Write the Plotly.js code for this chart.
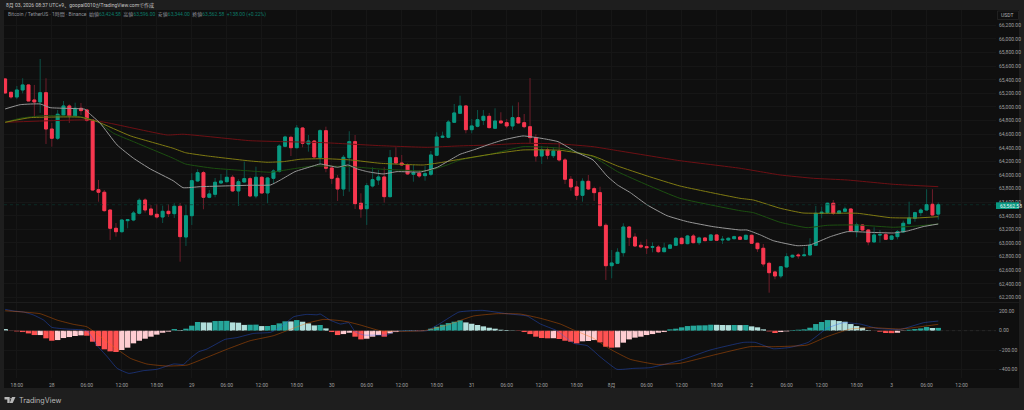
<!DOCTYPE html>
<html><head><meta charset="utf-8">
<script src="https://cdn.plot.ly/plotly-3.0.1.min.js"></script>
<style>html,body{margin:0;padding:0;background:#1e1e1e;overflow:hidden}#c{width:1024px;height:410px}</style>
</head><body><div id="c"></div>
<script>
// Hourly candles, Jul 27 16:00 to Aug 3 08:00 (hour index = array index)
const open_ = [65412,65216,65147,65250,65324,65103,65074,65210,64676,64540,64882,65015,64868,64981,64956,64809,63784,63746,63485,63216,63166,63328,63338,63437,63632,63500,63422,63382,63466,63431,63540,63088,63401,63912,64034,63672,63716,63882,63901,63966,63765,63897,63946,63691,63966,63735,63951,64054,64422,64554,64401,64691,64456,64500,64260,64651,64103,63951,63794,64254,64490,63584,63504,63838,63926,63971,63681,64254,64176,64147,64010,64025,63990,64010,64290,64554,64554,64775,64907,65015,64666,64716,64804,64863,64687,64794,64769,64721,64843,64769,64710,64549,64279,64368,64284,64353,64221,63937,63824,63701,63907,63799,63740,63260,62666,62701,62857,63235,63088,62966,62946,62937,62941,62872,62922,62966,63069,62990,63103,63004,63074,63040,63118,63044,63044,63063,63088,63054,63113,62996,62922,62701,62574,62515,62647,62794,62824,62813,62824,62966,63437,63446,63584,63437,63466,63500,63172,63265,63191,63015,63118,63122,63054,63093,63162,63284,63363,63446,63485,63569,63424.58];
const high_ = [65425,65216,65309,65422,65330,65324,65706,65422,64765,64956,65088,65040,65063,65059,64971,64809,63926,63779,63485,63294,63349,63349,63470,63657,63657,63559,63569,63549,63569,63584,63588,63559,64025,64084,64060,63779,63956,64015,64074,64000,63937,64196,63975,64122,63985,63971,64084,64451,64578,64578,64735,64706,64588,64515,64672,64710,64147,64000,64294,64643,64588,63731,63882,64113,64074,64113,64368,64407,64294,64169,64147,64074,64132,64353,64628,64637,64809,65044,65166,65029,64824,64956,64956,64912,64981,64922,64824,65019,65069,64897,65426,64599,64426,64416,64407,64481,64250,63985,63912,63951,64000,63828,63828,63290,62897,62922,63290,63250,63143,63019,63054,63010,62971,63004,62978,63088,63084,63118,63132,63093,63084,63132,63128,63103,63084,63107,63103,63122,63122,63004,62985,62725,62593,62662,62849,62828,62849,62937,63069,63544,63534,63593,63632,63481,63534,63510,63299,63279,63201,63231,63191,63166,63118,63191,63328,63607,63460,63510,63790,63790,63596];
const low_ = [65195,65122,65118,65200,65088,64857,64912,64456,64416,64515,64868,64765,64853,64882,64784,63770,63607,63460,63044,63093,63150,63216,63320,63420,63446,63397,63360,63294,63382,63368,62725,62956,63265,63900,63496,63657,63672,63872,63887,63750,63544,63887,63672,63657,63721,63584,63878,64034,64407,64279,64390,64407,64343,64250,64162,64040,63868,63618,63691,63754,63500,63372,63265,63816,63853,63593,63669,64162,64132,64000,63901,63956,63916,63985,64279,64544,64540,64765,64897,64613,64613,64701,64735,64684,64676,64757,64687,64662,64757,64687,64466,64196,64162,64231,64250,64196,63868,63769,63632,63607,63779,63618,63240,62456,62481,62691,62799,62956,62946,62922,62838,62863,62853,62863,62912,62956,62981,62981,62996,62971,63025,63029,63029,62985,63029,63054,63044,63044,62985,62868,62651,62269,62466,62481,62637,62784,62769,62799,62813,62956,63363,63437,63412,63426,63456,63166,63084,63176,62966,63004,63004,63044,63044,63054,63151,63275,63313,63397,63475,63401,63344];
const close_ = [65206,65147,65250,65324,65088,65074,65210,64676,64540,64893,65015,64868,64981,64946,64804,63779,63746,63475,63216,63166,63338,63343,63441,63628,63485,63416,63382,63466,63431,63540,63093,63401,63916,64034,63672,63721,63893,63912,63966,63765,63901,63946,63691,63966,63735,63956,64059,64426,64559,64401,64691,64466,64500,64265,64651,64099,63951,63794,64260,64490,63578,63500,63843,63931,63971,63681,64254,64176,64147,64015,64034,63985,64019,64294,64559,64569,64779,64912,65015,64666,64721,64813,64863,64696,64794,64765,64721,64843,64765,64710,64549,64279,64368,64290,64353,64221,63937,63824,63701,63907,63794,63740,63254,62666,62706,62863,63235,63084,62956,62941,62931,62946,62872,62926,62971,63069,62990,63103,63004,63074,63034,63118,63040,63054,63069,63093,63054,63113,62996,62916,62691,62563,62515,62651,62799,62819,62813,62824,62966,63437,63451,63584,63437,63471,63500,63176,63269,63191,63015,63118,63122,63054,63103,63166,63290,63368,63446,63485,63563,63412,63562.58];

// Moving averages, read at turning points
const whiteH = [0,2.6,6,7.7,13.7,14.3,16.3,19.2,22,24.9,28.8,30.5,33.5,42,45.5,47.2,49.7,52.8,54,57,58.8,60.4,62.1,64.8,67.2,71.2,74.1,75.8,78,80.3,83.2,85.4,88.8,92.3,94.8,98.1,100.8,103.2,105,107.2,110.1,113.5,117,121.4,126,127.2,129.5,131.7,135.8,138,141.5,144.4,148.3,152.3,154.7,157.4,160];
const whiteV = [64971,65034,65044,64990,64966,64916,64760,64441,64246,64088,63916,63813,63828,63849,63853,63926,64049,64132,64162,64113,64147,64088,64049,64015,64049,64044,64113,64196,64304,64368,64456,64515,64574,64534,64490,64328,64221,63985,63853,63740,63559,63401,63313,63240,63191,63191,63118,63034,62960,62971,63093,63166,63157,63147,63176,63240,63279];
const yellowH = [0,4.3,12.9,15.8,21.5,28.8,30.9,34.7,42,44.9,47.7,50.6,54.6,59.2,64.3,71.7,74.6,78,83.2,88.8,95.2,100.8,105,110.1,115.7,126,128.3,132.9,136.8,141.5,146.1,151.8,156.4,160];
const yellowV = [64775,64843,64849,64784,64574,64393,64328,64279,64206,64187,64196,64231,64240,64221,64172,64147,64181,64231,64304,64368,64363,64279,64132,63985,63838,63657,63632,63510,63441,63437,63437,63372,63368,63387];
const greenH = [0,2.6,6.6,12.9,15.8,18.6,22,28.8,30.9,35.7,42,45.5,48.9,52.8,59.2,64.8,72.4,75.8,78,83.2,88.8,95.2,100.8,105,110.1,115.7,126,128.3,132.9,137.5,141,146.1,152.3,156.4,160];
const greenV = [64775,64834,64872,64857,64784,64613,64490,64246,64162,64099,64059,64040,64084,64132,64122,64084,64063,64147,64221,64304,64416,64393,64269,64049,63853,63657,63475,63446,63304,63225,63260,63265,63231,63250,63279];
const redH = [0,14.6,18,27.8,30.5,42,47.7,54.6,64.3,72.4,77.5,83.2,88.8,95.2,100.8,104.3,115.7,126,132.9,138.6,144.4,152.3,160];
const redV = [64775,64809,64760,64588,64599,64504,64490,64475,64431,64407,64426,64441,64466,64456,64416,64368,64210,64099,64000,63951,63926,63863,63828];

// MACD pane
const histV = [17,-2,-7,-14,-28,-45,-45,-79,-104,-97,-76,-66,-55,-48,-52,-114,-159,-193,-214,-221,-200,-176,-131,-104,-83,-62,-41,-21,-10,17,7,21,52,90,86,85,100,101,102,86,83,60,62,63,48,49,59,76,97,96,110,93,76,55,59,24,-14,-45,-35,-21,-62,-90,-83,-62,-45,-62,-28,-14,3,5,3,-3,-2,21,41,62,79,93,107,86,72,59,45,31,21,10,7,3,-3,-14,-35,-62,-76,-79,-78,-86,-104,-114,-131,-110,-107,-97,-121,-166,-176,-173,-124,-90,-72,-62,-45,-35,-21,-14,14,21,35,48,52,55,56,62,61,59,58,59,58,59,45,35,14,-7,-24,-14,-7,7,10,14,31,69,90,110,109,100,93,69,48,31,7,-1,-10,-24,-25,-21,-3,10,17,24,38,28,29];
const macdH = [0,1.5,3.2,4.9,6.6,8,10.6,13.5,14.3,15.7,17.5,19.2,21.2,23.7,26,28.9,30.6,31.7,33.2,34.6,37.7,39.7,42.6,45.5,47.2,49.5,51.7,53.5,54,55.7,57.5,58.9,60,61.5,64.3,65.5,66.6,68.9,72.3,74.6,77.8,81.8,86,89.5,91.8,94.6,97.5,99.8,102,104.9,107.8,110.6,115.7,120.9,126.6,128.6,131.7,134.6,137.7,140.9,143.7,146.6,149.5,153.5,157.5,160];
const macdV = [221,204,193,162,110,35,17,7,-17,-149,-269,-390,-442,-414,-400,-345,-349,-287,-218,-190,-90,-72,-28,-17,35,145,169,165,173,110,69,83,-10,-45,-45,-45,-10,0,0,76,193,211,176,152,69,0,-131,-155,-269,-400,-390,-383,-308,-200,-121,-121,-187,-173,-121,24,83,69,24,14,83,100];
const signalH = [0,3.2,6,8.9,11.7,14,15.5,18.6,21.5,24.3,27.7,31.2,34.6,38,42,46,48.3,51.7,54.6,57.5,58.9,60.9,64.3,67.2,71.8,75.8,80.3,84.3,88.3,91.8,95.2,97.5,100.9,103.8,107.2,111.7,115.7,121.5,127.7,131.7,137.5,140.9,144.9,148.9,153.5,156.9,160];
const signalV = [207,193,176,110,66,41,-21,-166,-287,-345,-366,-356,-276,-193,-104,-52,0,76,117,104,90,59,0,-7,0,59,152,176,173,128,69,7,-79,-193,-297,-349,-338,-252,-166,-166,-149,-62,17,31,17,41,66];

// Axes
const timeTickVals = [2,8,14,20,26,32,38,44,50,56,62,68,74,80,86,92,98,104,110,116,122,128,134,140,146,152,158,164];
const timeTickText = ['18:00','28','06:00','12:00','18:00','29','06:00','12:00','18:00','30','06:00','12:00','18:00','31','06:00','12:00','18:00','8月','06:00','12:00','18:00','2','06:00','12:00','18:00','3','06:00','12:00'];
const priceTicks = [62200,62400,62600,62800,63000,63200,63400,63600,63800,64000,64200,64400,64600,64800,65000,65200,65400,65600,65800,66000,66200];
const macdTicks = [200,0,-200,-400];
const hours = open_.map((_, i) => i);
const lastPrice = close_[close_.length - 1];

// pixel helpers for chrome only (not data)
const L = 3.5, R = 996, T = 10, B = 378;
const px = v => (v - L) / (R - L);
const py = v => (B - v) / (B - T);

const UP = '#089981', DOWN = '#f7374f';
const histColor = histV.map((h, i) => {
  if (i === 0) return '#b2dfdb';
  const p = histV[i - 1];
  return h >= 0 ? (h > p ? '#26a69a' : '#b2dfdb') : (h < p ? '#ff5252' : '#ffcdd2');
});

const lineTrace = (x, y, color) => ({type:'scatter', mode:'lines', x, y, xaxis:'x', yaxis:'y',
  line:{color, width:1, shape:'spline', smoothing:0.4}, hoverinfo:'skip', showlegend:false});
const macdTrace = (x, y, color) => ({type:'scatter', mode:'lines', x, y, xaxis:'x', yaxis:'y2',
  line:{color, width:1, shape:'spline', smoothing:0.4}, hoverinfo:'skip', showlegend:false});

const traces = [
  // wicks
  {type:'candlestick', x:hours, open:open_, high:high_, low:low_, close:close_, xaxis:'x', yaxis:'y',
   increasing:{line:{color:'#0b5248', width:1}, fillcolor:UP},
   decreasing:{line:{color:'#6e1d2a', width:1}, fillcolor:DOWN}, showlegend:false, hoverinfo:'skip'},
  // bodies
  {type:'candlestick', x:hours, open:open_, close:close_,
   high:open_.map((o, i) => Math.max(o, close_[i])), low:open_.map((o, i) => Math.min(o, close_[i])), xaxis:'x', yaxis:'y',
   increasing:{line:{color:UP, width:1}, fillcolor:UP},
   decreasing:{line:{color:DOWN, width:1}, fillcolor:DOWN}, showlegend:false, hoverinfo:'skip'},
  lineTrace(redH, redV, '#6e0f14'),
  lineTrace(greenH, greenV, '#1c4f10'),
  lineTrace(yellowH, yellowV, '#7f7a12'),
  lineTrace(whiteH, whiteV, '#979797'),
  {type:'bar', x:hours, y:histV, xaxis:'x', yaxis:'y2', marker:{color:histColor, line:{width:0}}, showlegend:false, hoverinfo:'skip'},
  macdTrace(macdH, macdV, 'rgba(41,98,255,0.38)'),
  macdTrace(signalH, signalV, 'rgba(255,109,0,0.38)')
];

const legendText = '<span style="color:#8f929a">Bitcoin / TetherUS · 1時間 · Binance  始値</span><span style="color:#0c7a68">63,424.58</span>' +
  '<span style="color:#8f929a">  高値</span><span style="color:#0c7a68">63,596.00</span>' +
  '<span style="color:#8f929a">  安値</span><span style="color:#0c7a68">63,344.00</span>' +
  '<span style="color:#8f929a">  終値</span><span style="color:#0c7a68">63,562.58  +138.00 (+0.22%)</span>';

const FONT = 'Roboto, "Noto Sans CJK JP", sans-serif';
const note = (x, y, text, size, color, extra) => Object.assign({xref:'paper', yref:'paper', x:px(x), y:py(y), text,
  showarrow:false, xanchor:'left', yanchor:'middle', align:'left', font:{family:FONT, size, color}}, extra || {});

const layout = {
  width:1024, height:410,
  margin:{l:L, r:1024 - R, t:T, b:410 - B, pad:0},
  paper_bgcolor:'#1e1e1e', plot_bgcolor:'#0f0f0f',
  font:{family:FONT, size:5, color:'#a0a0a0'},
  showlegend:false, hovermode:false, barmode:'overlay', bargap:0.08,
  xaxis:{domain:[0,1], range:[-0.2,169.9], anchor:'y2', rangeslider:{visible:false}, tickmode:'array', tickvals:timeTickVals, ticktext:timeTickText,
    tickangle:0, tickfont:{size:5, color:'#a0a0a0'}, ticklen:0, ticklabelstandoff:3, showgrid:true, gridcolor:'#161616', gridwidth:1, zeroline:false, showline:false},
  yaxis:{domain:[py(302),1], range:[62132,66426], side:'right', anchor:'x', tickmode:'array', tickvals:priceTicks, tickformat:',.2f',
    ticklen:0, ticklabelstandoff:2, tickfont:{size:5, color:'#a0a0a0'}, showgrid:true, gridcolor:'#161616', gridwidth:1, zeroline:false, showline:false},
  yaxis2:{domain:[0,py(303)], range:[-490,287], side:'right', anchor:'x', tickmode:'array', tickvals:macdTicks, tickformat:',.2f',
    ticklen:0, ticklabelstandoff:2, tickfont:{size:5, color:'#a0a0a0'}, showgrid:true, gridcolor:'#161616', gridwidth:1, zeroline:false, showline:false},
  shapes:[
    {type:'rect', layer:'below', xref:'paper', yref:'paper', x0:px(3.5), x1:px(1019), y0:py(388), y1:py(10), fillcolor:'#0f0f0f', line:{width:0}},
    {type:'line', layer:'below', xref:'paper', yref:'paper', x0:px(3.5), x1:px(1019), y0:py(302.5), y1:py(302.5), line:{color:'#1c1c1c', width:1}},
    {type:'line', layer:'above', xref:'paper', yref:'y', x0:0, x1:1, y0:lastPrice, y1:lastPrice, line:{color:'#0a3a33', width:0.6, dash:'dot'}},
    {type:'line', layer:'above', xref:'paper', yref:'y2', x0:px(3.5), x1:px(996), y0:0, y1:0, line:{color:'#333333', width:0.6, dash:'dot'}},
    // USDT box
    {type:'rect', xref:'paper', yref:'paper', x0:px(997.5), x1:px(1018.5), y0:py(19.5), y1:py(11), fillcolor:'#0f0f0f', line:{color:'#2a2a2a', width:0.7}},
    // last price tag
    {type:'rect', xref:'paper', yref:'paper', x0:px(996), x1:px(1019), y0:py(209), y1:py(202.3), fillcolor:UP, line:{width:0}},
    // TradingView logo
    {type:'path', xref:'paper', yref:'paper', fillcolor:'#b8b8b8', line:{width:0},
     path:`M${px(4)},${py(397)} L${px(9.2)},${py(397)} L${px(9.2)},${py(403)} L${px(6.8)},${py(403)} L${px(6.8)},${py(399.4)} L${px(4)},${py(399.4)} Z`},
    {type:'circle', xref:'paper', yref:'paper', fillcolor:'#b8b8b8', line:{width:0}, x0:px(9.7), x1:px(11.3), y0:py(399.6), y1:py(398)},
    {type:'path', xref:'paper', yref:'paper', fillcolor:'#b8b8b8', line:{width:0},
     path:`M${px(11.5)},${py(397)} L${px(15)},${py(397)} L${px(12.2)},${py(403)} L${px(9.2)},${py(403)} Z`}
  ],
  annotations:[
    note(3.5, 5, '8月 03, 2026 08:37 UTC+9、goopal0010がTradingView.comで作成', 5, '#c4c4c4'),
    note(6, 14.3, legendText, 5, '#8f929a'),
    note(999.5, 15.3, 'USDT', 5, '#b0b0b0'),
    note(998.5, 205.7, '63,562.58', 5, '#e8f5f2'),
    note(16.5, 400, 'TradingView', 7.2, '#b8b8b8', {font:{family:'Inter, Roboto, sans-serif', size:7.2, color:'#b8b8b8'}})
  ]
};
Plotly.newPlot('c', traces, layout, {staticPlot:true, displayModeBar:false});
</script></body></html>
